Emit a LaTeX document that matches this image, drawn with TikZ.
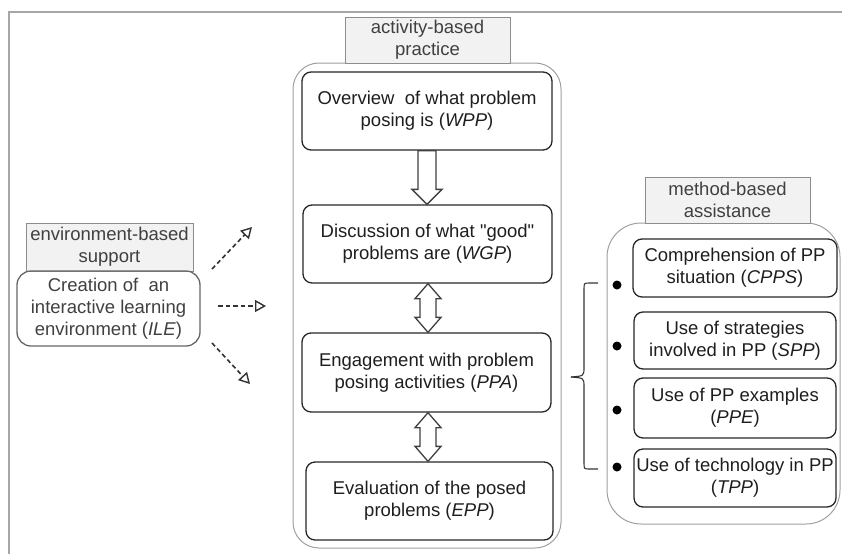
\documentclass[tikz,border=0pt]{standalone}
\usepackage{fontspec}
\setmainfont{Liberation Sans}[Ligatures=TeXOff]
\usetikzlibrary{arrows.meta,calc}
\definecolor{labfill}{HTML}{F2F2F2}
\definecolor{labdraw}{HTML}{8C8C8C}
\definecolor{contdraw}{HTML}{A0A0A0}
\definecolor{txt}{HTML}{1E1E1E}
\tikzset{
  base/.style={font=\fontsize{18.5}{22}\selectfont, text=txt, align=center, inner sep=0pt},
  labelbox/.style={base, draw=labdraw, fill=labfill, line width=0.9pt, text=txt!85},
  container/.style={draw=contdraw, line width=1pt, rounded corners=26pt},
  stepbox/.style={base, draw=black!85, line width=1.3pt, rounded corners=9pt},
  blockarrow/.style={draw=black!75, fill=white, line width=1.3pt, line join=miter},
  dasharrow/.style={draw=black!80, line width=1.6pt, dash pattern=on 4.5pt off 3pt,
    -{Triangle[open, length=11pt, width=12pt, line width=1.4pt]}},
  bulletdot/.style={circle, fill=black, inner sep=0pt, minimum size=9pt},
}
\newcommand\singlearrow[2]{%
  \path[blockarrow] let \p1=(#1), \p2=(#2) in
    ({\x1-9pt},\y1) -- ({\x1+9pt},\y1) -- ({\x1+9pt},{\y2+15pt}) -- ({\x1+15pt},{\y2+15pt})
    -- (\x1,\y2) -- ({\x1-15pt},{\y2+15pt}) -- ({\x1-9pt},{\y2+15pt}) -- cycle;}
\newcommand\doublearrow[2]{%
  \path[blockarrow] let \p1=(#1), \p2=(#2) in
    (\x1,\y1) -- ({\x1+13pt},{\y1-15pt}) -- ({\x1+8pt},{\y1-15pt}) -- ({\x1+8pt},{\y2+15pt})
    -- ({\x1+13pt},{\y2+15pt}) -- (\x1,\y2) -- ({\x1-13pt},{\y2+15pt}) -- ({\x1-8pt},{\y2+15pt})
    -- ({\x1-8pt},{\y1-15pt}) -- ({\x1-13pt},{\y1-15pt}) -- cycle;}
\begin{document}
\begin{tikzpicture}[x=1pt,y=-1pt]
\useasboundingbox (0,0) rectangle (842,554);
% frame
\draw[draw=black!35, line width=1.6pt] (9,554) -- (9,12) -- (842,12);

% activity-based practice
\node[container, minimum width=268pt, minimum height=485pt] (act) at (427,305.5) {};
\node[labelbox, minimum width=165pt, minimum height=46pt] (actlab) at (427.5,40) {activity-based\\practice};
\node[stepbox, minimum width=250pt, minimum height=78pt] (wpp) at (427,111) {Overview\ \ of what problem\\posing is (\textit{WPP})};
\node[stepbox, minimum width=249pt, minimum height=78pt] (wgp) at (427.5,244) {Discussion of what "good"\\problems are (\textit{WGP})};
\node[stepbox, minimum width=249pt, minimum height=79pt] (ppa) at (426.5,372.5) {Engagement with problem\\posing activities (\textit{PPA})};
\node[stepbox, minimum width=247pt, minimum height=78pt] (epp) at (429.5,501) {Evaluation of the posed\\problems (\textit{EPP})};
\coordinate (a1s) at (wpp.south -| 427,0);
\coordinate (a1e) at (wgp.north -| 427,0);
\coordinate (a2s) at (wgp.south -| 428,0);
\coordinate (a2e) at (ppa.north -| 428,0);
\coordinate (a3s) at (ppa.south -| 428,0);
\coordinate (a3e) at (epp.north -| 428,0);
\singlearrow{a1s}{a1e}
\doublearrow{a2s}{a2e}
\doublearrow{a3s}{a3e}

% environment-based support
\node[labelbox, minimum width=167pt, minimum height=48pt] (envlab) at (109.5,247) {environment-based\\support};
\node[stepbox, draw=black!60, minimum width=183pt, minimum height=75pt, rounded corners=14pt, text=txt!85] (ile) at (108.5,308.5) {Creation of\ \ an\\interactive learning\\environment (\textit{ILE})};
\coordinate (d1s) at (212,269);
\coordinate (d1e) at (252,227);
\coordinate (d2s) at (218,306);
\coordinate (d2e) at (266,306);
\coordinate (d3s) at (212,343);
\coordinate (d3e) at (250,384);
\draw[dasharrow] (d1s) -- (d1e);
\draw[dasharrow] (d2s) -- (d2e);
\draw[dasharrow] (d3s) -- (d3e);

% method-based assistance
\node[container, rounded corners=34pt, minimum width=233pt, minimum height=301pt] (meth) at (723.5,373.5) {};
\node[labelbox, minimum width=165pt, minimum height=46pt] (methlab) at (727.5,200) {method-based\\assistance};
\node[stepbox, minimum width=204pt, minimum height=58pt] (cpps) at (735,268) {Comprehension of PP\\situation (\textit{CPPS})};
\node[stepbox, minimum width=202pt, minimum height=57pt] (spp) at (735,340.5) {Use of strategies\\involved in PP (\textit{SPP})};
\node[stepbox, minimum width=202pt, minimum height=60pt] (ppe) at (735,408) {Use of PP examples\\(\textit{PPE})};
\node[stepbox, minimum width=202pt, minimum height=58pt] (tpp) at (735,478) {Use of technology in PP\\(\textit{TPP})};
\node[bulletdot] (b1) at (617,285) {};
\node[bulletdot] (b2) at (617,346) {};
\node[bulletdot] (b3) at (617,410) {};
\node[bulletdot] (b4) at (617,467) {};

% brace
\draw[black!80, line width=1.1pt] (598,283) -- (590,283) .. controls (584,283) .. (584,289) -- (584,367) .. controls (584,376) .. (571,377);
\draw[black!80, line width=1.1pt] (598,469) -- (590,469) .. controls (584,469) .. (584,463) -- (584,387) .. controls (584,378) .. (571,377);
\end{tikzpicture}
\end{document}
